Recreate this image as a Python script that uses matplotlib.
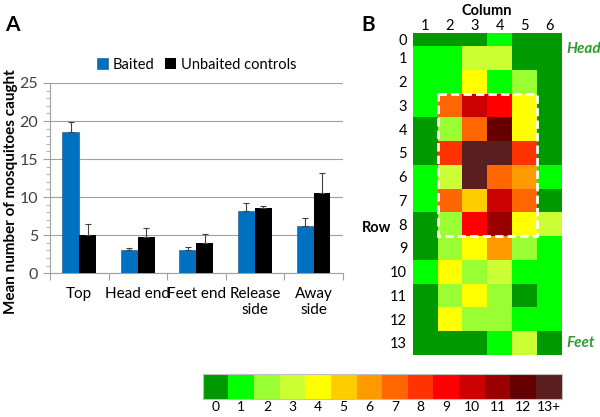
import numpy as np
import matplotlib
matplotlib.use('Agg')
import matplotlib.pyplot as plt
from matplotlib.colors import ListedColormap, BoundaryNorm
from matplotlib.patches import Rectangle

plt.rcParams['font.family'] = ['Lato', 'DejaVu Sans']

# panel A data
categories = ['Top', 'Head end', 'Feet end', 'Release\nside', 'Away\nside']
baited = [18.5, 3.0, 3.0, 8.2, 6.2]
baited_err = [1.4, 0.3, 0.5, 1.0, 1.0]
unbaited = [5.0, 4.8, 4.0, 8.5, 10.5]
unbaited_err = [1.4, 1.1, 1.1, 0.3, 2.7]

# panel B data: rows 0..13, columns 1..6 (colour class)
grid = [
    [0, 0, 0, 1, 0, 0],
    [1, 1, 3, 3, 0, 0],
    [1, 1, 4, 1, 2, 0],
    [1, 7, 10, 9, 4, 0],
    [0, 2, 7, 12, 4, 0],
    [0, 8, 13, 13, 8, 0],
    [1, 3, 13, 7, 6, 1],
    [1, 7, 5, 10, 7, 0],
    [0, 2, 9, 11, 4, 3],
    [0, 2, 4, 6, 2, 1],
    [1, 4, 2, 3, 1, 1],
    [0, 2, 4, 2, 0, 1],
    [0, 4, 2, 2, 1, 1],
    [0, 0, 0, 1, 3, 0],
]
col_labels = ['1', '2', '3', '4', '5', '6']
row_labels = [str(i) for i in range(14)]
scale_labels = ['0', '1', '2', '3', '4', '5', '6', '7', '8', '9', '10', '11', '12', '13+']
scale_colors = ['#009900', '#00FF00', '#99FF33', '#CCFF33', '#FFFF00', '#FFCC00',
                '#FF9900', '#FF6600', '#FF3300', '#FF0000', '#CC0000', '#990000',
                '#660000', '#5A1E1E']

fig = plt.figure(figsize=(6, 4.17), dpi=100)

# ---- panel A ----
ax = fig.add_axes([0.0833, 0.345, 0.488, 0.456])
x = np.arange(len(categories))
w = 0.29
ekw = dict(ecolor='#404040', elinewidth=0.8, capsize=2.5, capthick=0.8)
ax.bar(x - w/2, baited, w, color='#0070C0', edgecolor='#1F4E79', linewidth=0.4,
       yerr=[np.zeros(5), baited_err], error_kw=ekw, label='Baited', zorder=3)
ax.bar(x + w/2, unbaited, w, color='black',
       yerr=[np.zeros(5), unbaited_err], error_kw=ekw, label='Unbaited controls', zorder=3)
ax.set_xlim(-0.5, 4.5)
ax.set_ylim(0, 25)
ax.set_yticks([0, 5, 10, 15, 20, 25])
ax.set_yticks(np.arange(0, 26, 1), minor=True)
ax.yaxis.grid(True, color='#A0A0A0', linewidth=0.8, zorder=0)
ax.set_axisbelow(True)
ax.set_xticks(np.arange(-0.5, 5, 1))
ax.set_xticklabels([])
ax.set_xticks(x, minor=True)
ax.set_xticklabels(categories, minor=True, fontsize=11)
ax.tick_params(axis='x', which='minor', length=0, pad=10)
ax.tick_params(axis='x', which='major', length=5, color='#A0A0A0')
ax.tick_params(axis='y', which='major', length=5, color='#A0A0A0', labelsize=11.5, labelcolor='#404040')
ax.tick_params(axis='y', which='minor', length=3, color='#A0A0A0')
for s in ['top', 'right']:
    ax.spines[s].set_visible(False)
ax.spines['left'].set_color('#A0A0A0')
ax.spines['bottom'].set_color('#A0A0A0')
ax.set_ylabel('Mean number of mosquitoes caught', fontsize=11, fontweight='bold')
ax.yaxis.set_label_coords(-0.11, 0.43)
ax.legend(loc='lower center', bbox_to_anchor=(0.5, 0.99), ncol=2, frameon=False,
          fontsize=10.5, handlelength=0.8, handleheight=0.8, columnspacing=0.7, handletextpad=0.3)
fig.text(0.008, 0.965, 'A', fontsize=15, fontweight='bold', va='top')

# ---- panel B ----
axh = fig.add_axes([0.688, 0.149, 0.248, 0.772])
data = np.array(grid)
cmap = ListedColormap(scale_colors)
norm = BoundaryNorm(np.arange(-0.5, 14.5, 1), cmap.N)
row_edges = np.concatenate([[0], 0.55 + np.arange(14)])
col_edges = np.arange(7)
axh.pcolormesh(col_edges, row_edges, data, cmap=cmap, norm=norm)
axh.set_xlim(0, 6)
axh.set_ylim(row_edges[-1], 0)
row_centers = (row_edges[:-1] + row_edges[1:]) / 2
axh.set_xticks(col_edges[:-1] + 0.5)
axh.set_xticklabels(col_labels, fontsize=10.5)
axh.xaxis.tick_top()
axh.set_yticks(row_centers)
axh.set_yticklabels(row_labels, fontsize=10.5)
axh.tick_params(axis='y', length=0, pad=4)
axh.tick_params(axis='x', length=0, pad=0)
for s in axh.spines.values():
    s.set_visible(False)
axh.set_title('Column', fontsize=10.5, fontweight='bold', pad=13)
axh.add_patch(Rectangle((1, row_edges[3]), 4, row_edges[9] - row_edges[3], fill=False,
                        edgecolor='white', linewidth=2, linestyle=(0, (3, 1.5)), zorder=5))
axh.text(6.2, row_centers[0] + 0.4, 'Head', color='#339933', fontsize=11, fontweight='bold',
         style='italic', va='center', ha='left')
axh.text(6.2, row_centers[13], 'Feet', color='#339933', fontsize=11, fontweight='bold',
         style='italic', va='center', ha='left')
fig.text(0.603, 0.453, 'Row', fontsize=10.5, fontweight='bold', va='center')
fig.text(0.603, 0.965, 'B', fontsize=15, fontweight='bold', va='top')

# ---- colour scale ----
axc = fig.add_axes([0.338, 0.042, 0.598, 0.06])
axc.pcolormesh(np.arange(15), [0, 1], np.arange(14)[None, :], cmap=cmap, norm=norm)
axc.set_xlim(0, 14)
axc.set_ylim(0, 1)
axc.set_yticks([])
axc.set_xticks(np.arange(14) + 0.5)
axc.set_xticklabels(scale_labels, fontsize=10)
axc.tick_params(length=0, pad=1)
for s in axc.spines.values():
    s.set_color('#C0C0C0')

fig.savefig('out.png', dpi=100)
